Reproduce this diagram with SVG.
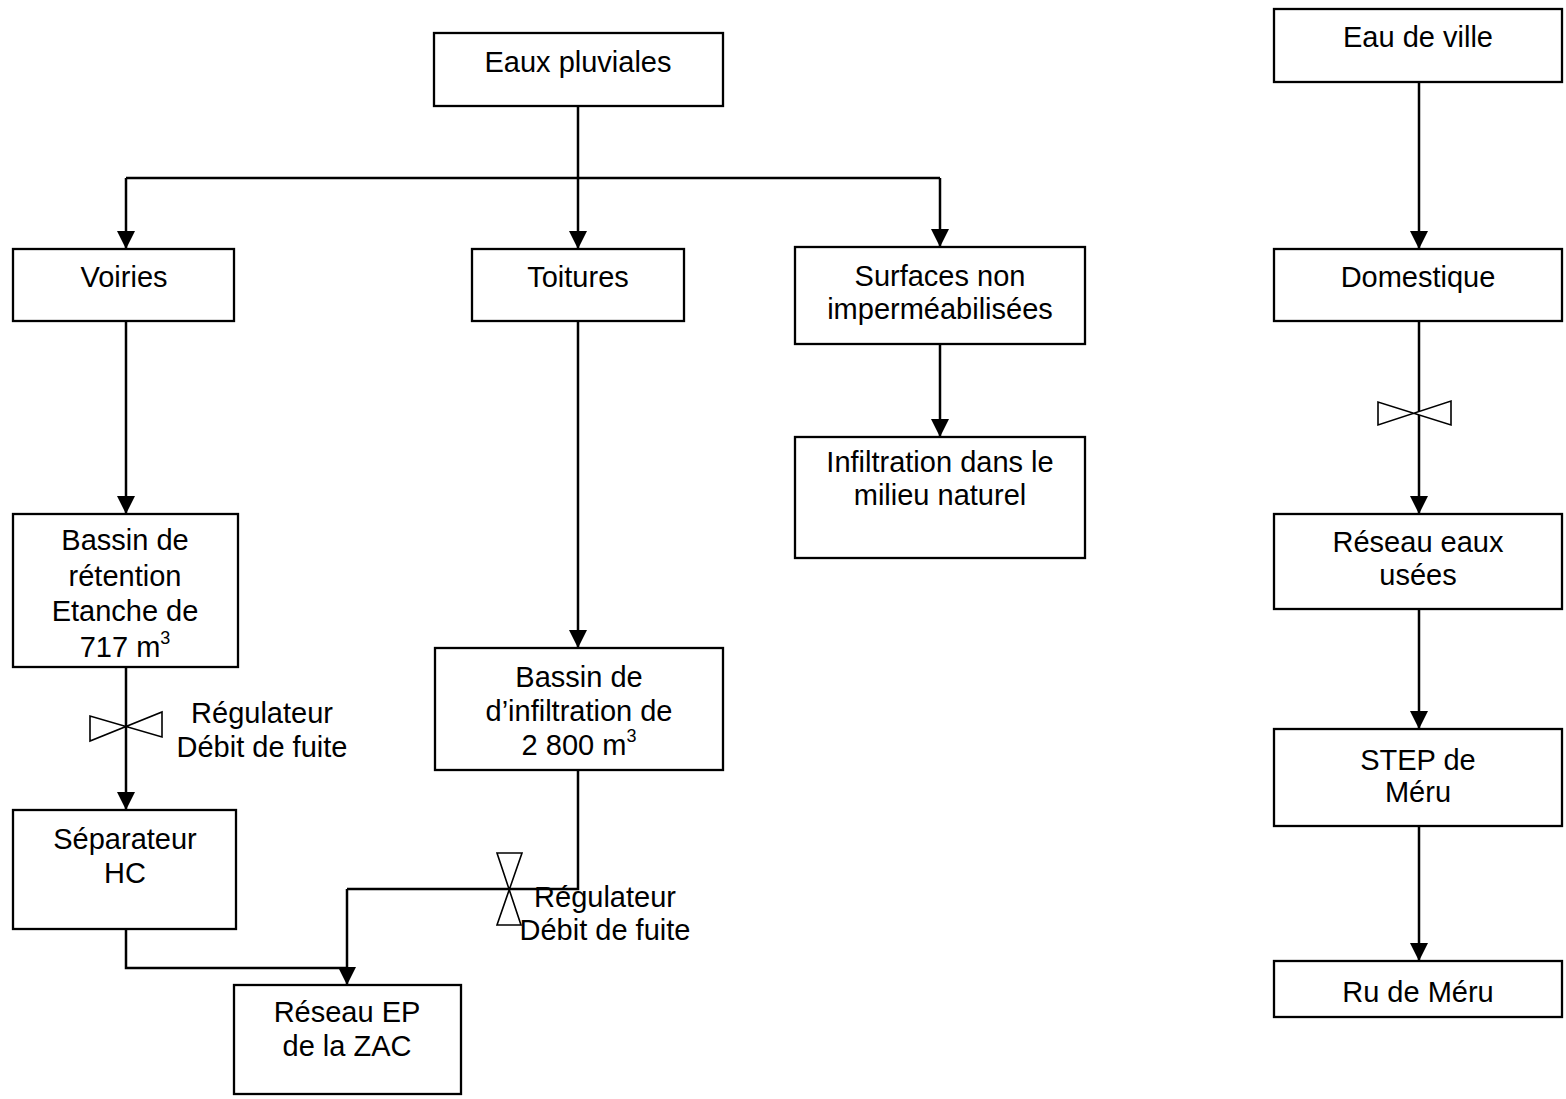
<svg xmlns="http://www.w3.org/2000/svg" width="1566" height="1099" viewBox="0 0 1566 1099">
<defs>
<style>
.box{fill:#fff;stroke:#000;stroke-width:2.3}
.t{font-family:"Liberation Sans",Arial,sans-serif;font-size:29px;fill:#000;text-anchor:middle}
.ln{fill:none;stroke:#000;stroke-width:2.5}
.arr{fill:none;stroke:#000;stroke-width:2.5;marker-end:url(#ah)}
.valve{fill:#fff;stroke:#000;stroke-width:1.6}
</style>
<marker id="ah" markerUnits="userSpaceOnUse" markerWidth="18" markerHeight="18" viewBox="0 0 16 16" refX="16" refY="8" orient="auto">
<path d="M0,0 L16,8 L0,16 Z" fill="#000"/>
</marker>
</defs>
<rect width="1566" height="1099" fill="#fff"/>

<g id="connectors">
<path class="ln" d="M578,106 V178 M126,178 H940"/>
<path class="arr" d="M126,178 V249"/>
<path class="arr" d="M578,178 V249"/>
<path class="arr" d="M940,178 V247"/>
<path class="arr" d="M126,321 V514"/>
<path class="arr" d="M578,321 V648"/>
<path class="arr" d="M940,344 V437"/>
<path class="arr" d="M126,667 V810"/>
<path class="ln" d="M126,929 V968 H347"/>
<path class="ln" d="M578,770 V889 H347"/>
<path class="arr" d="M347,889 V985"/>
<path class="arr" d="M1419,82 V249"/>
<path class="arr" d="M1419,321 V514"/>
<path class="arr" d="M1419,609 V729"/>
<path class="arr" d="M1419,826 V961"/>
</g>

<g id="valves">
<g id="valve1"><path class="valve" d="M90,716 L90,741 L162,712 L162,737 Z"/></g>
<g id="valve2"><path class="valve" d="M497,853 L522,853 L497,925 L521,925 Z"/></g>
<g id="valve3"><path class="valve" d="M1378,402 L1378,425 L1451,401 L1451,425 Z"/></g>
</g>

<g id="label-valve1"><text class="t" x="262" y="723">Régulateur</text><text class="t" x="262" y="757">Débit de fuite</text></g>
<g id="label-valve2"><text class="t" x="605" y="907">Régulateur</text><text class="t" x="605" y="940">Débit de fuite</text></g>

<g id="eaux-pluviales"><rect class="box" x="434" y="33" width="289" height="73"/><text class="t" x="578" y="72">Eaux pluviales</text></g>
<g id="voiries"><rect class="box" x="13" y="249" width="221" height="72"/><text class="t" x="124" y="287">Voiries</text></g>
<g id="toitures"><rect class="box" x="472" y="249" width="212" height="72"/><text class="t" x="578" y="287">Toitures</text></g>
<g id="surfaces"><rect class="box" x="795" y="247" width="290" height="97"/><text class="t" x="940" y="286">Surfaces non</text><text class="t" x="940" y="319">imperméabilisées</text></g>
<g id="infiltration"><rect class="box" x="795" y="437" width="290" height="121"/><text class="t" x="940" y="472">Infiltration dans le</text><text class="t" x="940" y="505">milieu naturel</text></g>
<g id="bassin-retention"><rect class="box" x="13" y="514" width="225" height="153"/><text class="t" x="125" y="550">Bassin de</text><text class="t" x="125" y="586">rétention</text><text class="t" x="125" y="621">Etanche de</text><text class="t" x="125" y="657">717 m<tspan font-size="18" dy="-13">3</tspan></text></g>
<g id="separateur"><rect class="box" x="13" y="810" width="223" height="119"/><text class="t" x="125" y="849">Séparateur</text><text class="t" x="125" y="883">HC</text></g>
<g id="reseau-ep"><rect class="box" x="234" y="985" width="227" height="109"/><text class="t" x="347" y="1022">Réseau EP</text><text class="t" x="347" y="1056">de la ZAC</text></g>
<g id="bassin-infiltration"><rect class="box" x="435" y="648" width="288" height="122"/><text class="t" x="579" y="687">Bassin de</text><text class="t" x="579" y="721">d’infiltration de</text><text class="t" x="579" y="755">2 800 m<tspan font-size="18" dy="-13">3</tspan></text></g>
<g id="eau-de-ville"><rect class="box" x="1274" y="9" width="288" height="73"/><text class="t" x="1418" y="47">Eau de ville</text></g>
<g id="domestique"><rect class="box" x="1274" y="249" width="288" height="72"/><text class="t" x="1418" y="287">Domestique</text></g>
<g id="reseau-eu"><rect class="box" x="1274" y="514" width="288" height="95"/><text class="t" x="1418" y="552">Réseau eaux</text><text class="t" x="1418" y="585">usées</text></g>
<g id="step"><rect class="box" x="1274" y="729" width="288" height="97"/><text class="t" x="1418" y="770">STEP de</text><text class="t" x="1418" y="802">Méru</text></g>
<g id="ru"><rect class="box" x="1274" y="961" width="288" height="56"/><text class="t" x="1418" y="1002">Ru de Méru</text></g>
</svg>
